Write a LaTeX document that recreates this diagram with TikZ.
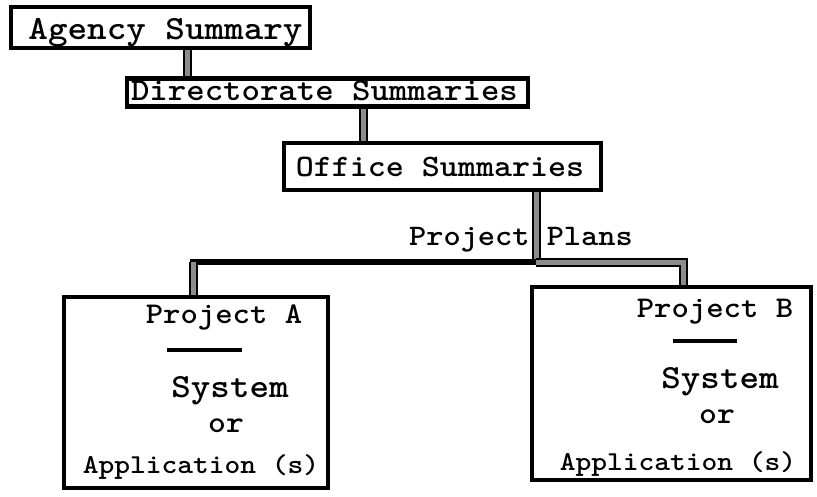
\documentclass[tikz,border=0pt]{standalone}
\usepackage{fontspec}
\newfontfamily\tw{lmmonolt10-bold.otf}[FakeStretch=1.1]
\usetikzlibrary{backgrounds}
\newcommand\tsz[1]{\fontsize{#1}{#1}\selectfont}
\tikzset{
  box/.style={draw=black, line width=4.5pt, fill=white, inner sep=0pt, outer sep=0pt},
  txt/.style={inner sep=0pt, anchor=base, font=\tw},
  conn/.style={draw=black, line width=2pt, double=black!45, double distance=5pt},
  bar/.style={draw=black, line width=6pt},
  rulel/.style={draw=black, line width=4pt}
}
\begin{document}
\begin{tikzpicture}[x=1pt,y=-1pt]
\useasboundingbox (0,0) rectangle (817,496);
% boxes
\node[box, minimum width=299pt, minimum height=41pt] (agency) at (160.5,27.5) {};
\node[box, minimum width=401pt, minimum height=28pt] (direct) at (327.5,92.5) {};
\node[box, minimum width=317pt, minimum height=47pt] (office) at (442.5,166.5) {};
\node[box, minimum width=264pt, minimum height=191pt] (projA) at (196,392.5) {};
\node[box, minimum width=279pt, minimum height=193pt] (projB) at (671.5,383.5) {};
% texts
\node[txt, font=\tw\tsz{33.9}] (tagency) at (165.5,39) {Agency Summary};
\node[txt, font=\tw\tsz{31.9}] (tdirect) at (324.5,100) {Directorate Summaries};
\node[txt, font=\tw\tsz{31.2}] (toffice) at (440,176) {Office Summaries};
\node[txt, font=\tw\tsz{29.8}] (tplans) at (521,245) {Project Plans};
\node[txt, font=\tw\tsz{30.1}] (tpa) at (224,323) {Project A};
\node[txt, font=\tw\tsz{33.8}] (tsa) at (230,397) {System};
\node[txt, font=\tw\tsz{30.9}] (toa) at (226,432) {or};
\node[txt, font=\tw\tsz{27.3}] (taa) at (201,473) {Application (s)};
\node[txt, font=\tw\tsz{30.1}] (tpb) at (715,317) {Project B};
\node[txt, font=\tw\tsz{33.8}] (tsb) at (720,388) {System};
\node[txt, font=\tw\tsz{30.9}] (tob) at (717,423) {or};
\node[txt, font=\tw\tsz{27.3}] (tab) at (678,470) {Application (s)};
% rules under project names
\coordinate (ra1) at (167,350); \coordinate (ra2) at (242,350);
\coordinate (rb1) at (673,341); \coordinate (rb2) at (737,341);
\draw[rulel] (ra1) -- (ra2);
\draw[rulel] (rb1) -- (rb2);
% connector columns
\coordinate (x1) at (187,0);
\coordinate (x2) at (363,0);
\coordinate (x3) at (536,0);
\coordinate (jl) at (193,262);
\coordinate (jm) at (536,262);
\coordinate (jr) at (683,262);
\begin{scope}[on background layer]
\draw[conn] (agency.south -| x1) -- (direct.north -| x1);
\draw[conn] (direct.south -| x2) -- (office.north -| x2);
\draw[conn] (office.south -| x3) -- (jm);
\draw[bar] ([xshift=-3pt]jl) -- (jm);
\draw[conn] (jl) -- (projA.north -| jl);
\draw[conn] (jm) -- (jr) -- (projB.north -| jr);
\end{scope}
\end{tikzpicture}
\end{document}
